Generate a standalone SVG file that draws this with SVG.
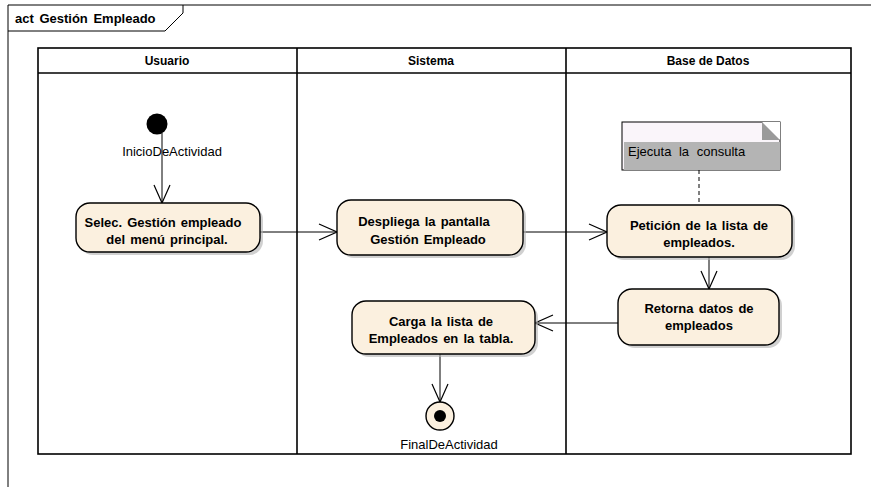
<svg xmlns="http://www.w3.org/2000/svg" width="871" height="487" viewBox="0 0 871 487">
  <defs>
    <style>
      .frame { fill: none; stroke: #000; stroke-width: 1; }
      .lane { fill: none; stroke: #000; stroke-width: 1.6; }
      .hdr { font-family: "Liberation Sans", Arial, sans-serif; font-size: 12px; font-weight: bold; text-anchor: middle; fill: #000; }
      .title { font-family: "Liberation Sans", Arial, sans-serif; font-size: 13px; font-weight: bold; word-spacing: 2px; fill: #000; }
      .act { fill: #fbf0df; stroke: #000; stroke-width: 1.4; }
      .shadow { fill: #b0b0b0; opacity: 0.6; }
      .lbl { font-family: "Liberation Sans", Arial, sans-serif; font-size: 13px; font-weight: bold; word-spacing: 1.5px; text-anchor: middle; fill: #000; }
      .plain { font-family: "Liberation Sans", Arial, sans-serif; font-size: 13px; fill: #000; }
      .flow { fill: none; stroke: #000; stroke-width: 1; }
    </style>
    <marker id="open" viewBox="0 0 20 20" refX="19" refY="10" markerWidth="20" markerHeight="20" markerUnits="userSpaceOnUse" orient="auto">
      <path d="M1,2 L19,10 L1,18" fill="none" stroke="#000" stroke-width="1.2"/>
    </marker>
  </defs>

  <!-- diagram frame with title tab -->
  <g id="frame">
    <path class="frame" d="M8,487 V5 H871"/>
    <path class="frame" d="M8,31 H165 L183,13 V5"/>
    <text x="15" y="23" class="title">act Gestión Empleado</text>
  </g>

  <!-- swimlanes -->
  <g id="lanes">
    <rect class="lane" x="38" y="48" width="813" height="406"/>
    <line class="lane" x1="38" y1="73" x2="851" y2="73"/>
    <line class="lane" x1="297" y1="48" x2="297" y2="454"/>
    <line class="lane" x1="566" y1="48" x2="566" y2="454"/>
    <text class="hdr" x="167" y="65">Usuario</text>
    <text class="hdr" x="431" y="65">Sistema</text>
    <text class="hdr" x="708" y="65">Base de Datos</text>
  </g>

  <!-- connectors -->
  <g id="connectors">
    <line class="flow" x1="162" y1="133" x2="162" y2="203" marker-end="url(#open)"/>
    <line class="flow" x1="260" y1="232" x2="337" y2="232" marker-end="url(#open)"/>
    <line class="flow" x1="523" y1="232" x2="607" y2="232" marker-end="url(#open)"/>
    <line class="flow" x1="709" y1="257" x2="709" y2="289" marker-end="url(#open)"/>
    <line class="flow" x1="618" y1="323" x2="535" y2="323" marker-end="url(#open)"/>
    <line class="flow" x1="440" y1="354" x2="440" y2="402" marker-end="url(#open)"/>
    <line class="flow" x1="699" y1="170" x2="699" y2="205" stroke-dasharray="4,3" stroke-width="1.5"/>
  </g>

  <!-- initial node -->
  <g id="inicio">
    <circle cx="157" cy="124" r="10.5" fill="#000"/>
    <text class="plain" x="172" y="156" text-anchor="middle">InicioDeActividad</text>
  </g>

  <g id="selec">
    <rect class="shadow" x="79" y="206" width="184" height="49" rx="14"/>
    <rect class="act" x="76" y="203" width="184" height="49" rx="14"/>
    <text class="lbl" x="163" y="227">Selec. Gestión empleado</text>
    <text class="lbl" x="167" y="244">del menú principal.</text>
  </g>

  <g id="despliega">
    <rect class="shadow" x="340" y="203" width="186" height="55" rx="14"/>
    <rect class="act" x="337" y="200" width="186" height="55" rx="14"/>
    <text class="lbl" x="424" y="226">Despliega la pantalla</text>
    <text class="lbl" x="428" y="244">Gestión Empleado</text>
  </g>

  <g id="nota">
    <rect x="622" y="122" width="158" height="48" fill="#faf5fa" stroke="#000" stroke-width="1"/>
    <rect x="624" y="142" width="156" height="28" fill="#b4b4b4"/>
    <path d="M762,122 L780,140 L780,122 Z" fill="#fff"/>
    <path d="M762,122 L780,140 L762,140 Z" fill="#9a9a9a"/>
    <text class="plain" x="628" y="156" word-spacing="4">Ejecuta la consulta</text>
  </g>

  <g id="peticion">
    <rect class="shadow" x="610" y="208" width="185" height="52" rx="14"/>
    <rect class="act" x="607" y="205" width="185" height="52" rx="14"/>
    <text class="lbl" x="699" y="230">Petición de la lista de</text>
    <text class="lbl" x="699" y="247">empleados.</text>
  </g>

  <g id="retorna">
    <rect class="shadow" x="621" y="292" width="161" height="56" rx="14"/>
    <rect class="act" x="618" y="289" width="161" height="56" rx="14"/>
    <text class="lbl" x="699" y="313">Retorna datos de</text>
    <text class="lbl" x="699" y="330">empleados</text>
  </g>

  <g id="carga">
    <rect class="shadow" x="355" y="304" width="183" height="53" rx="14"/>
    <rect class="act" x="352" y="301" width="183" height="53" rx="14"/>
    <text class="lbl" x="441" y="326">Carga la lista de</text>
    <text class="lbl" x="441" y="343">Empleados en la tabla.</text>
  </g>

  <!-- final node -->
  <g id="final">
    <circle cx="440" cy="416" r="14" fill="#fbf0df" stroke="#000" stroke-width="1.4"/>
    <circle cx="440" cy="416" r="6" fill="#000"/>
    <text class="plain" x="449" y="449" text-anchor="middle">FinalDeActividad</text>
  </g>
</svg>
